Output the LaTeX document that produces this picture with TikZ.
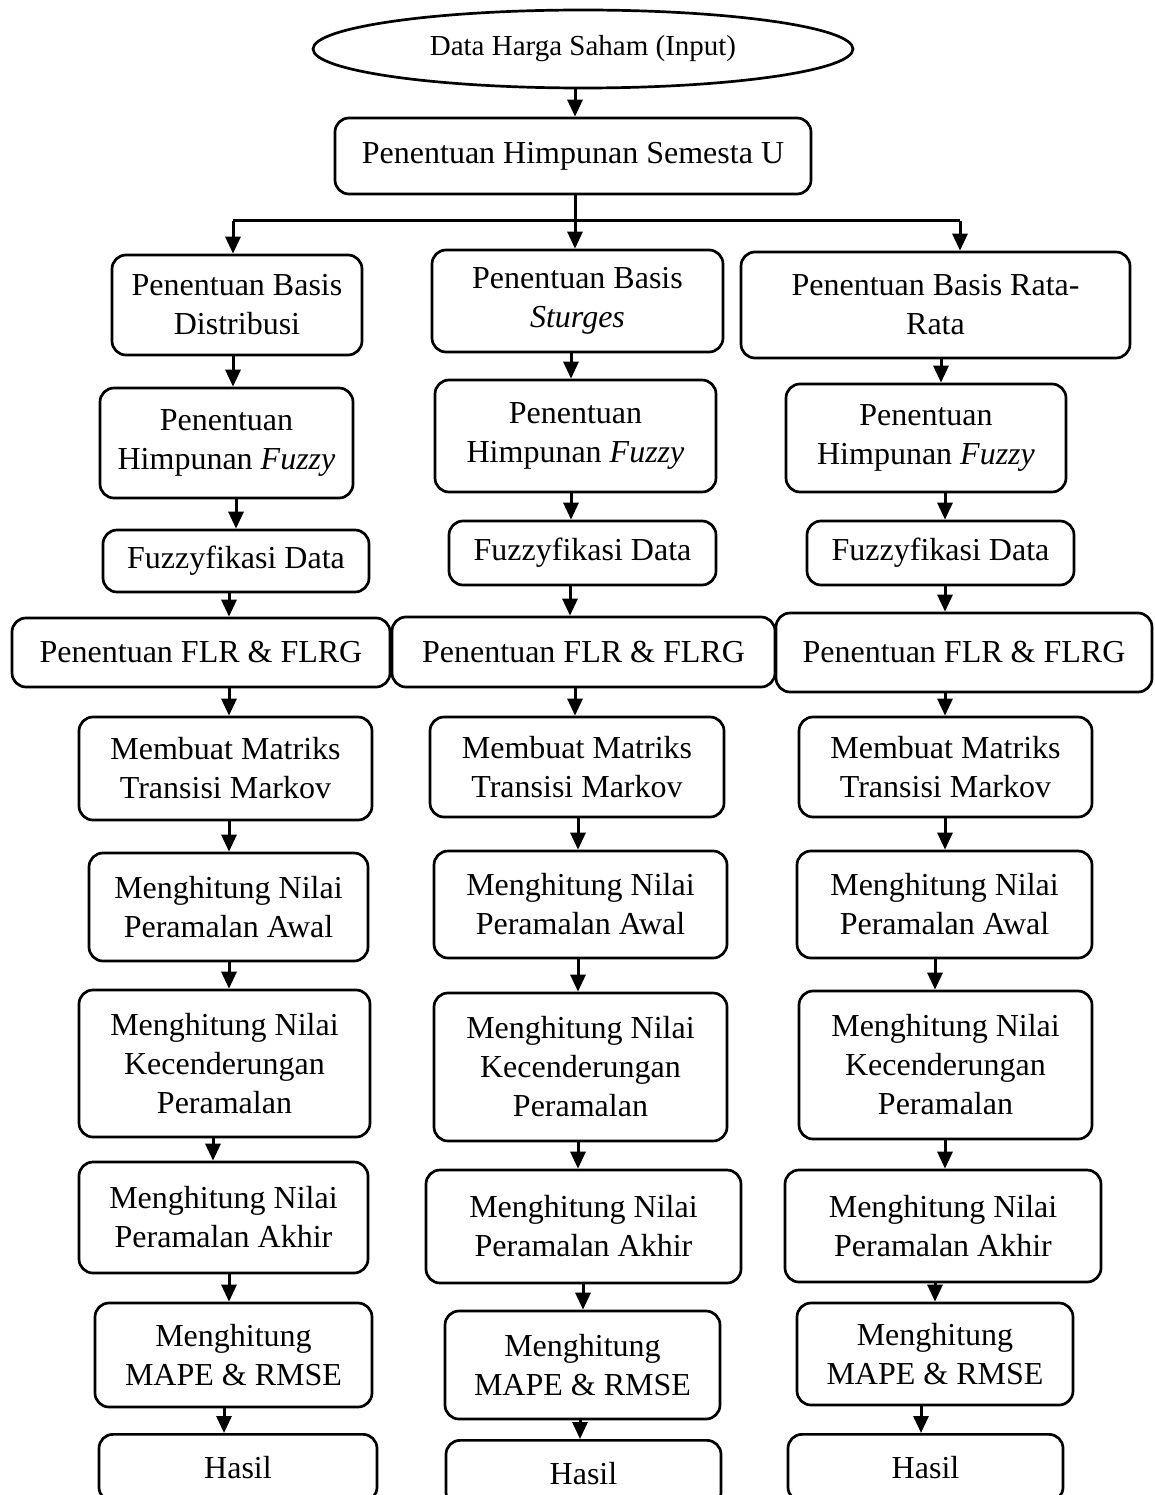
\documentclass[tikz,border=0pt]{standalone}
\usepackage{fontspec}
\setmainfont{Liberation Serif}
\usetikzlibrary{shapes.geometric,arrows.meta}
\tikzset{
  box/.style={draw, rounded corners=14pt, line width=2.7pt, align=center, inner sep=0pt,
    font=\fontsize{32}{39}\selectfont},
  startnode/.style={draw, ellipse, line width=2.7pt, inner sep=0pt, align=center,
    font=\fontsize{29}{34}\selectfont},
  arr/.style={line width=3pt, -{Triangle[length=17pt,width=15pt]}},
  plain/.style={line width=3pt}
}
\newcommand{\bx}[6]{\node[box, minimum width=#4pt, minimum height=#5pt] (#1) at (#2,#3) {#6};}
\newcommand{\ar}[3]{\draw[arr] (#1.south -| #3,0) -- (#2.north -| #3,0);}
\begin{document}
\begin{tikzpicture}[x=1pt,y=-1pt]
\useasboundingbox (0,0) rectangle (1154,1495);
% top
\node[startnode, minimum width=540pt, minimum height=78pt] (start) at (583,49) {Data Harga Saham (Input)};
\bx{U}{573}{156}{476}{76}{Penentuan Himpunan Semesta U}
% column 1
\bx{c1a}{237}{305}{250}{100}{Penentuan Basis\\Distribusi}
\bx{c1b}{226.5}{443}{253}{110}{Penentuan\\Himpunan \textit{Fuzzy}}
\bx{c1c}{236}{561}{266}{62}{Fuzzyfikasi Data}
\bx{c1d}{201}{652.5}{378}{69}{Penentuan FLR \& FLRG}
\bx{c1e}{225.5}{768.5}{293}{103}{Membuat Matriks\\Transisi Markov}
\bx{c1f}{228.5}{907}{279}{108}{Menghitung Nilai\\Peramalan Awal}
\bx{c1g}{224.5}{1063.5}{291}{147}{Menghitung Nilai\\Kecenderungan\\Peramalan}
\bx{c1h}{223.5}{1217.5}{289}{111}{Menghitung Nilai\\Peramalan Akhir}
\bx{c1i}{233.5}{1355}{277}{104}{Menghitung\\MAPE \& RMSE}
\node[box, minimum width=278pt, minimum height=67pt, anchor=north] (c1j) at (238,1433) {Hasil};
% column 2
\bx{c2a}{577.5}{301}{291}{102}{Penentuan Basis\\\textit{Sturges}}
\bx{c2b}{575.5}{436}{281}{112}{Penentuan\\Himpunan \textit{Fuzzy}}
\bx{c2c}{582.5}{553}{267}{64}{Fuzzyfikasi Data}
\bx{c2d}{583.5}{652}{383}{70}{Penentuan FLR \& FLRG}
\bx{c2e}{577}{767}{294}{100}{Membuat Matriks\\Transisi Markov}
\bx{c2f}{580.5}{904.5}{293}{107}{Menghitung Nilai\\Peramalan Awal}
\bx{c2g}{580.5}{1067}{293}{148}{Menghitung Nilai\\Kecenderungan\\Peramalan}
\bx{c2h}{583.5}{1226.5}{315}{113}{Menghitung Nilai\\Peramalan Akhir}
\bx{c2i}{582.5}{1365}{275}{108}{Menghitung\\MAPE \& RMSE}
\node[box, minimum width=275pt, minimum height=66pt, anchor=north] (c2j) at (583.5,1439) {Hasil};
% column 3
\bx{c3a}{935.5}{305}{389}{106}{Penentuan Basis Rata-\\Rata}
\bx{c3b}{926}{438}{280}{108}{Penentuan\\Himpunan \textit{Fuzzy}}
\bx{c3c}{940.5}{553}{267}{64}{Fuzzyfikasi Data}
\bx{c3d}{964}{652.5}{376}{79}{Penentuan FLR \& FLRG}
\bx{c3e}{945.5}{767}{293}{100}{Membuat Matriks\\Transisi Markov}
\bx{c3f}{944.5}{904.5}{295}{107}{Menghitung Nilai\\Peramalan Awal}
\bx{c3g}{945.5}{1065}{293}{148}{Menghitung Nilai\\Kecenderungan\\Peramalan}
\bx{c3h}{943}{1226}{316}{112}{Menghitung Nilai\\Peramalan Akhir}
\bx{c3i}{935}{1354}{276}{102}{Menghitung\\MAPE \& RMSE}
\node[box, minimum width=275pt, minimum height=67pt, anchor=north] (c3j) at (925.5,1433) {Hasil};
% top connectors
\ar{start}{U}{575}
\ar{U}{c2a}{575}
\coordinate (bl) at (233,221);
\coordinate (br) at (960,221);
\draw[plain] (bl) -- (br);
\draw[arr] (bl) -- (c1a.north -| bl);
\draw[arr] (br) -- (c3a.north -| br);
% column 1 connectors
\ar{c1a}{c1b}{233}
\ar{c1b}{c1c}{236}
\ar{c1c}{c1d}{229}
\ar{c1d}{c1e}{229}
\ar{c1e}{c1f}{229}
\ar{c1f}{c1g}{229}
\ar{c1g}{c1h}{213}
\ar{c1h}{c1i}{229}
\ar{c1i}{c1j}{224}
% column 2 connectors
\ar{c2a}{c2b}{571}
\ar{c2b}{c2c}{571}
\ar{c2c}{c2d}{570}
\ar{c2d}{c2e}{575}
\ar{c2e}{c2f}{578}
\ar{c2f}{c2g}{578}
\ar{c2g}{c2h}{578}
\ar{c2h}{c2i}{583}
\ar{c2i}{c2j}{580}
% column 3 connectors
\ar{c3a}{c3b}{941}
\ar{c3b}{c3c}{945}
\ar{c3c}{c3d}{945}
\ar{c3d}{c3e}{945}
\ar{c3e}{c3f}{945}
\ar{c3f}{c3g}{935}
\ar{c3g}{c3h}{945}
\ar{c3h}{c3i}{935}
\ar{c3i}{c3j}{921}
\end{tikzpicture}
\end{document}
